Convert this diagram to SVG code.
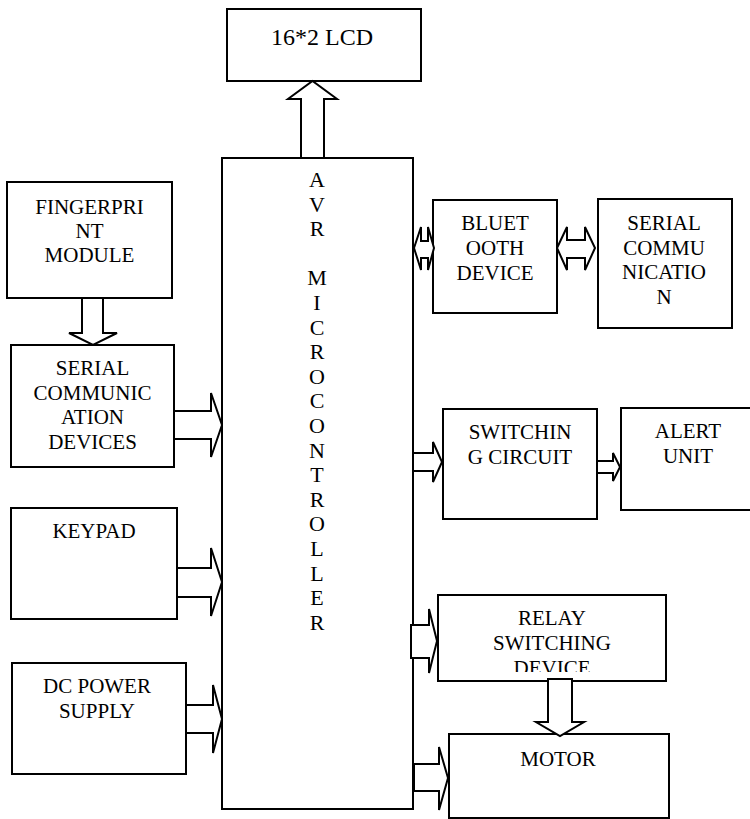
<svg xmlns="http://www.w3.org/2000/svg" width="750" height="819" viewBox="0 0 750 819">
<style>
.box{fill:#fff;stroke:#000;stroke-width:2}
.arr{fill:#fff;stroke:#000;stroke-width:2;stroke-linejoin:miter}
text{font-family:'Liberation Serif','Times New Roman','DejaVu Serif','Noto Serif',serif;font-size:21px;fill:#000;text-anchor:middle}
.big{font-size:24px}
.avr{font-size:22px}
</style>
<defs>
<clipPath id="relayClip"><rect x="438" y="595" width="228" height="77"/></clipPath>
</defs>
<rect width="750" height="819" fill="#fff"/>
<g id="lcd">
<rect class="box" x="227" y="9" width="194" height="72"/>
<text class="big" x="322" y="45" font-family="Liberation Serif, serif">16*2 LCD</text>
</g>
<g id="mcu">
<rect class="box" x="222" y="158" width="191" height="651"/>
<g font-family="Liberation Serif, serif">
<text class="avr" x="317" y="187">A</text>
<text class="avr" x="317" y="211.6">V</text>
<text class="avr" x="317" y="236.2">R</text>
<text class="avr" x="317" y="285.4">M</text>
<text class="avr" x="317" y="310">I</text>
<text class="avr" x="317" y="334.6">C</text>
<text class="avr" x="317" y="359.2">R</text>
<text class="avr" x="317" y="383.8">O</text>
<text class="avr" x="317" y="408.4">C</text>
<text class="avr" x="317" y="433">O</text>
<text class="avr" x="317" y="457.6">N</text>
<text class="avr" x="317" y="482.2">T</text>
<text class="avr" x="317" y="506.8">R</text>
<text class="avr" x="317" y="531.4">O</text>
<text class="avr" x="317" y="556">L</text>
<text class="avr" x="317" y="580.6">L</text>
<text class="avr" x="317" y="605.2">E</text>
<text class="avr" x="317" y="629.8">R</text>
</g>
</g>
<g id="fingerprint">
<rect class="box" x="7" y="182" width="165" height="116"/>
<text x="89.5" y="214">FINGERPRI</text>
<text x="89.5" y="238">NT</text>
<text x="89.5" y="262">MODULE</text>
</g>
<g id="serial-devices">
<rect class="box" x="11" y="345" width="163" height="122"/>
<text x="92.5" y="375">SERIAL</text>
<text x="92.5" y="400">COMMUNIC</text>
<text x="92.5" y="424">ATION</text>
<text x="92.5" y="449">DEVICES</text>
</g>
<g id="keypad">
<rect class="box" x="11" y="508" width="166" height="111"/>
<text x="94" y="538">KEYPAD</text>
</g>
<g id="dc-power">
<rect class="box" x="12" y="663" width="174" height="111"/>
<text x="97" y="693">DC POWER</text>
<text x="97" y="718">SUPPLY</text>
</g>
<g id="bluetooth">
<rect class="box" x="433" y="200" width="124" height="113"/>
<text x="495" y="230">BLUET</text>
<text x="495" y="255">OOTH</text>
<text x="495" y="280">DEVICE</text>
</g>
<g id="serial-comm">
<rect class="box" x="598" y="199" width="134" height="129"/>
<text x="664" y="230">SERIAL</text>
<text x="664" y="254.5">COMMU</text>
<text x="664" y="279">NICATIO</text>
<text x="664" y="303.5">N</text>
</g>
<g id="switching">
<rect class="box" x="443" y="409" width="154" height="110"/>
<text x="520" y="439">SWITCHIN</text>
<text x="520" y="464">G CIRCUIT</text>
</g>
<g id="alert">
<rect class="box" x="621" y="408" width="131" height="102"/>
<text x="688" y="438">ALERT</text>
<text x="688" y="463">UNIT</text>
</g>
<g id="relay">
<rect class="box" x="438" y="595" width="228" height="86"/>
<g clip-path="url(#relayClip)">
<text x="552" y="625">RELAY</text>
<text x="552" y="650">SWITCHING</text>
<text x="552" y="675">DEVICE</text>
</g>
</g>
<g id="motor">
<rect class="box" x="449" y="734" width="220" height="84"/>
<text x="558" y="766">MOTOR</text>
</g>
<g id="connectors">
<polygon class="arr" points="301,158 301,99 288,99 312.5,81 337,99 324,99 324,158"/>
<polygon class="arr" points="82,298 82,333 69,333 93,345 117,333 103,333 103,298"/>
<polygon class="arr" points="174,411 211,411 211,393 222,425 211,457 211,439 174,439"/>
<polygon class="arr" points="177,568 211,568 211,548 222,582 211,616 211,597 177,597"/>
<polygon class="arr" points="186,705 213,705 213,685 222,719 213,753 213,733 186,733"/>
<polygon class="arr" points="414,248 421,227 421,241 428,241 428,227 434,248 428,270 428,258 421,258 421,270"/>
<polygon class="arr" points="557,248 567,227 567,240 585,240 585,227 595,248 585,270 585,258 567,258 567,270"/>
<polygon class="arr" points="413,453 433,453 433,442 442,462 433,482 433,471 413,471"/>
<polygon class="arr" points="597,461 613,461 613,453 620,467 613,481 613,473 597,473"/>
<polygon class="arr" points="411,625 429,625 429,609 437,641 429,673 429,658 411,658"/>
<polygon class="arr" points="548,679 548,722 536,722 560,736 584,722 572,722 572,679"/>
<polygon class="arr" points="414,764 439,764 439,747 448,778 439,810 439,791 414,791"/>
</g>
</svg>
